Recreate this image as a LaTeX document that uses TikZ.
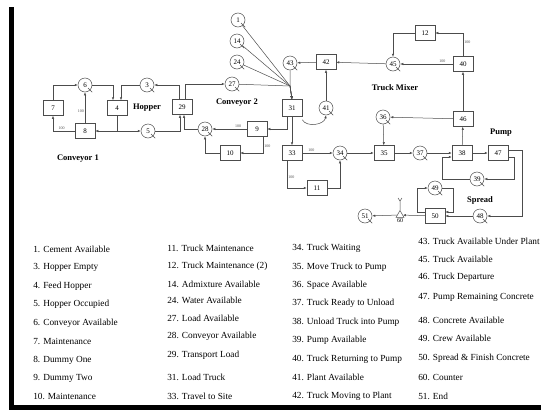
\documentclass[tikz,border=0pt]{standalone}
\usepackage{fontspec}
\setmainfont{Liberation Serif}
\usetikzlibrary{positioning, arrows.meta, shapes.geometric}

\begin{document}
\begin{tikzpicture}[
    x=1pt, y=-1pt,
    line width=0.5pt,
    queue/.style = {circle, draw=black!70, inner sep=0pt, minimum size=14pt, font=\fontsize{7}{8}\selectfont},
    task/.style = {rectangle, draw=black!70, inner sep=0pt, minimum width=20pt, minimum height=15pt, font=\fontsize{7}{8}\selectfont},
    counter/.style = {regular polygon, regular polygon sides=3, draw=black!70, inner sep=0pt, minimum size=9pt},
    num/.style = {inner sep=0.5pt, font=\fontsize{6}{7}\selectfont},
    region/.style = {inner sep=0pt, font=\fontsize{8.5}{10}\selectfont\bfseries},
    legend/.style = {anchor=west, inner sep=0pt, font=\fontsize{9.3}{11}\selectfont},
    prob/.style = {inner sep=1pt, font=\fontsize{4}{4}\selectfont, text=black!70},
    flow/.style = {draw=black!70, -{Latex[length=3pt,width=2.4pt]}}
]
\useasboundingbox (0,0) rectangle (541,410);

% frame left and bottom
\fill (9,7) rectangle (14,410);
\fill (9,405) rectangle (541,410);

% Conveyor 1 and hopper
\node[task] (n7) at (53,108) {7};
\node[queue] (n6) at (85,85) {6};
\node[task] (n8) at (85,131) {8};
\node[task] (n4) at (117,108) {4};
\node[queue] (n3) at (147,85) {3};
\node[queue] (n5) at (148,131) {5};
\node[task] (n29) at (182,107) {29};

% Conveyor 2 and loading
\node[queue] (n1) at (238,20) {1};
\node[queue] (n14) at (237,41) {14};
\node[queue] (n24) at (237,62) {24};
\node[queue] (n27) at (232,84) {27};
\node[queue] (n43) at (290,63) {43};
\node[task] (n42) at (326,62) {42};
\node[task, minimum height=17pt] (n31) at (292,108) {31};
\node[queue] (n41) at (326,108) {41};
\node[queue] (n28) at (205,129) {28};
\node[task] (n9) at (257,129) {9};
\node[task] (n10) at (230,153) {10};
\node[task] (n33) at (292,153) {33};
\node[queue] (n34) at (340,153) {34};
\node[task] (n11) at (317,188) {11};
\coordinate (hub) at (290,86);

% Truck mixer
\node[task] (n12) at (425,33) {12};
\node[queue] (n45) at (393,64) {45};
\node[task] (n40) at (463,64) {40};
\node[task] (n46) at (463,119) {46};
\node[queue] (n36) at (383,117) {36};

% Pump and spread
\node[task] (n35) at (384,153) {35};
\node[queue] (n37) at (420,153) {37};
\node[task] (n38) at (462,153) {38};
\node[task] (n47) at (498,153) {47};
\node[queue] (n39) at (477,179) {39};
\node[queue] (n49) at (435,188) {49};
\node[task] (n50) at (435,216) {50};
\node[queue] (n48) at (480,216) {48};
\node[counter] (n60) at (400,215) {};
\node[num, below=0pt of n60] (n60lab) {60};
\node[queue] (n51) at (365,216) {51};

% Queue tails
\foreach \q in {n1,n3,n5,n6,n14,n24,n27,n28,n34,n36,n37,n39,n41,n43,n45,n48,n49,n51}
  \draw[black!70] ([shift={(3pt,-3pt)}]\q.center) -- ([shift={(2pt,-2pt)}]\q.south east);

% Region labels
\node[region] (lbhopper) at (147,108) {Hopper};
\node[region] (lbconv1) at (78,159) {Conveyor 1};
\node[region] (lbconv2) at (237,103) {Conveyor 2};
\node[region] (lbmixer) at (395,88) {Truck Mixer};
\node[region] (lbpump) at (501,133) {Pump};
\node[region] (lbspread) at (480,200) {Spread};

% Arrows: conveyor 1 and hopper
\draw[flow] (n7.north) |- (n6.west);
\draw[flow] (n8) -- node[prob, left, pos=0.4] (p1) {100} (n6);
\draw[flow] (n8.west) -| node[prob, above, pos=0.3] (p2) {100} (n7.south);
\draw[flow] (n6.east) -| ([xshift=-4pt]n4.north);
\draw[flow] (n3.west) -| ([xshift=4pt]n4.north);
\draw[flow] (n4.south) |- (n8.east);
\draw[flow] (n4.south) |- (n5.west);
\draw[flow] (n5.east) -| ([xshift=-2pt]n29.south);
\draw[flow] (n28.west) -| ([xshift=2pt]n29.south);
\draw[flow] ([xshift=-3pt]n29.north) |- (n3.east);
\draw[flow] ([xshift=3pt]n29.north) |- (n27.west);

% Arrows: loading
\foreach \q in {n1,n14,n24,n27,n43}
  \draw[flow] (\q) -- (hub) -- (n31.north);
\draw[flow] (n42) -- (n43);
\draw[flow] (n45) -- (n42);
\draw[flow] (n41) -- (n42);
\draw[flow] ([yshift=-3pt]n31.south east) to[out=-60, in=-100] (n41.south);
\draw[flow] ([xshift=-5pt]n31.south) |- (n9.east);
\draw[flow] (n31) -- (n33);
\draw[flow] (n9) -- node[prob, above, pos=0.25] (p3) {100} (n28);
\draw[flow] ([xshift=6pt]n9.south) |- node[prob, right, pos=0.3] (p4) {100} (n10.east);
\draw[flow] (n10.west) -| (n28.south);
\draw[flow] (n33) -- node[prob, above, pos=0.3] (p5) {100} (n34);
\draw[flow] ([xshift=-5pt]n33.south) |- node[prob, right, pos=0.3] (p6) {100} (n11.west);
\draw[flow] (n11.east) -| (n34.south);

% Arrows: truck mixer
\draw[flow] (n34) -- (n35);
\draw[flow] (n36) -- (n35);
\draw[flow] (n46) -- (n36);
\draw[flow] (n35) -- (n37);
\draw[flow] (n37) -- (n38);
\draw[flow] (n38) -- (n46);
\draw[flow] (n46) -- (n40);
\draw[flow] (n40) -- node[prob, above, pos=0.2] (p7) {100} (n45);
\draw[flow] (n40.north) |- node[prob, right, pos=0.3] (p8) {100} (n12.east);
\draw[flow] (n12.west) -| (n45.north);

% Arrows: pump and spread
\draw[flow] (n38) -- (n47);
\draw[flow] ([yshift=-4pt]n47.east) -- ++(6,0) |- (n39.east);
\draw[flow] (n39.west) -| ([xshift=-10pt,yshift=-4pt]n38.west) -- ([yshift=-4pt]n38.west);
\draw[flow] ([yshift=3pt]n47.east) -- ++(14,0) |- (n48.east);
\draw[flow] (n48) -- (n50);
\draw[flow] ([yshift=4pt]n50.west) -- ++(-8,0) |- (n49.west);
\draw[flow] (n49.east) -| ([xshift=8pt,yshift=4pt]n50.east) -- ([yshift=4pt]n50.east);
\draw[flow] (n50) -- (n60);
\draw[flow] (n60) -- (n51);
\draw[black!70] (n60.north) -- ++(0,-9) -- ++(-2,-3) ++(2,3) -- ++(2,-3);

% Legend
\foreach \y/\txt [count=\i] in {249/1. Cement Available, 267/3. Hopper Empty, 286/4. Feed Hopper,
    304/5. Hopper Occupied, 323/6. Conveyor Available, 341/7. Maintenance, 360/8. Dummy One,
    378/9. Dummy Two, 396/10. Maintenance}
  \node[legend] (la\i) at (33,\y) {\txt};
\foreach \y/\txt [count=\i] in {248/11. Truck Maintenance, 266/12. Truck Maintenance (2),
    284/14. Admixture Available, 300/24. Water Available, 318/27. Load Available,
    336/28. Conveyor Available, 355/29. Transport Load, 377/31. Load Truck, 396/33. Travel to Site}
  \node[legend] (lb\i) at (167,\y) {\txt};
\foreach \y/\txt [count=\i] in {248/34. Truck Waiting, 267/35. Move Truck to Pump,
    285/36. Space Available, 303/37. Truck Ready to Unload, 322/38. Unload Truck into Pump,
    340/39. Pump Available, 359/40. Truck Returning to Pump, 377/41. Plant Available,
    396/42. Truck Moving to Plant}
  \node[legend] (lc\i) at (292,\y) {\txt};
\foreach \y/\txt [count=\i] in {241/43. Truck Available Under Plant, 259/45. Truck Available,
    277/46. Truck Departure, 297/47. Pump Remaining Concrete, 320/48. Concrete Available,
    338/49. Crew Available, 358/50. Spread \& Finish Concrete, 377/60. Counter, 396/51. End}
  \node[legend] (ld\i) at (418,\y) {\txt};

\end{tikzpicture}
\end{document}
